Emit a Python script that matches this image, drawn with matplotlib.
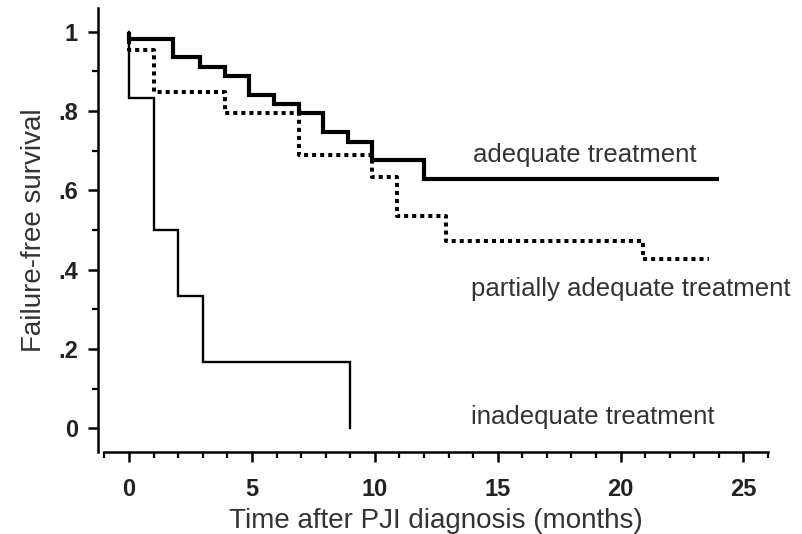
import matplotlib
matplotlib.use('Agg')
import matplotlib.pyplot as plt
from matplotlib.ticker import MultipleLocator, FixedLocator

# ---- data ----
adequate_t = [0, 0, 1.8, 2.9, 3.9, 4.9, 5.9, 6.9, 7.9, 8.9, 9.9, 12.0, 24.0]
adequate_s = [1.0, 0.982, 0.937, 0.912, 0.889, 0.841, 0.818, 0.795, 0.747, 0.722, 0.677, 0.629, 0.629]

partial_t = [0, 0, 1.0, 3.9, 6.9, 9.9, 10.9, 12.9, 20.9, 23.6]
partial_s = [1.0, 0.955, 0.848, 0.795, 0.689, 0.634, 0.535, 0.472, 0.427, 0.427]

inadequate_t = [0, 0, 1.0, 2.0, 3.0, 9.0]
inadequate_s = [1.0, 0.833, 0.5, 0.333, 0.167, 0.0]

labels = ["adequate treatment", "partially adequate treatment", "inadequate treatment"]
label_x = [14.0, 13.9, 13.9]
label_y = [0.689, 0.351, 0.028]

yticks = [0, 0.2, 0.4, 0.6, 0.8, 1.0]
yticklabels = ["0", ".2", ".4", ".6", ".8", "1"]
xticks = [0, 5, 10, 15, 20, 25]
xticklabels = ["0", "5", "10", "15", "20", "25"]

plt.rcParams['font.family'] = ['Liberation Sans', 'DejaVu Sans']

W, H = 802, 534
fig = plt.figure(figsize=(W / 100, H / 100), dpi=100)
ax = fig.add_axes([104 / W, (H - 452) / H, (768 - 104) / W, (452 - 8) / H])
ax.set_xlim(-1.02, 26.0)
ax.set_ylim(-0.06, 1.06)

ax.plot(inadequate_t, inadequate_s, drawstyle='steps-post', color='black', lw=1.7,
        solid_joinstyle='miter')
ax.plot(partial_t, partial_s, drawstyle='steps-post', color='black', lw=2.9,
        linestyle=(0, (1.0, 1.0)), dash_capstyle='butt')
ax.plot(adequate_t, adequate_s, drawstyle='steps-post', color='black', lw=3.0,
        solid_joinstyle='miter', solid_capstyle='butt')

txt_color = '#333333'
for lab, lx, ly in zip(labels, label_x, label_y):
    ax.text(lx, ly, lab, fontsize=18.5, color=txt_color, ha='left', va='center')

for s in ['top', 'right']:
    ax.spines[s].set_visible(False)
for s in ['left', 'bottom']:
    ax.spines[s].set_linewidth(1.8)
ax.spines['left'].set_position(('outward', 6 * 0.72))

ax.yaxis.set_major_locator(FixedLocator(yticks))
ax.set_yticklabels(yticklabels)
ax.yaxis.set_minor_locator(MultipleLocator(0.1))
ax.xaxis.set_major_locator(FixedLocator(xticks))
ax.set_xticklabels(xticklabels)
ax.xaxis.set_minor_locator(MultipleLocator(1))

ax.tick_params(which='major', direction='out', length=7.5, width=1.8, pad=7,
               labelsize=17, labelcolor='#222222')
ax.tick_params(axis='x', which='major', pad=11)
ax.tick_params(which='minor', direction='out', length=4.3, width=1.6)
for t in ax.get_xticklabels() + ax.get_yticklabels():
    t.set_fontweight('bold')

ax.set_xlabel("Time after PJI diagnosis (months)", fontsize=20, color=txt_color, labelpad=5)
ax.set_ylabel("Failure-free survival", fontsize=20, color=txt_color, labelpad=8)

fig.savefig('out.png', dpi=100)
